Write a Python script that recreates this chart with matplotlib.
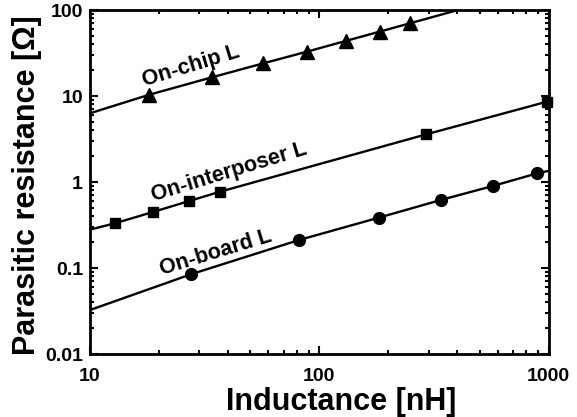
import numpy as np
import matplotlib
matplotlib.use("Agg")
import matplotlib.pyplot as plt
from matplotlib.ticker import LogLocator, NullFormatter, FixedLocator, FixedFormatter

plt.rcParams['font.family'] = ['Liberation Sans', 'DejaVu Sans']
plt.rcParams['font.weight'] = 'bold'

# measured points (nH, Ohm)
chip_L = [18, 34, 57, 88, 130, 183, 248]
chip_R = [10.3, 16.5, 24, 32.7, 43.6, 56, 70]
chip_line_L = [10, 18, 34, 57, 88, 130, 183, 248, 1000]
chip_line_R = [6.3, 10.3, 16.5, 24, 32.7, 43.6, 56, 70, 196]

inter_L = [12.8, 18.9, 27, 36.8, 293, 980]
inter_R = [0.33, 0.45, 0.60, 0.77, 3.59, 8.6]
inter_line_L = [10, 12.8, 18.9, 27, 36.8, 293, 1000]
inter_line_R = [0.28, 0.33, 0.45, 0.60, 0.77, 3.59, 8.7]

board_L = [27.7, 81.7, 181.5, 340, 571, 889]
board_R = [0.085, 0.212, 0.385, 0.62, 0.90, 1.26]
board_line_L = [10, 27.7, 81.7, 181.5, 340, 571, 889, 1000]
board_line_R = [0.0325, 0.085, 0.212, 0.385, 0.62, 0.90, 1.26, 1.35]

x_ticks = [10, 100, 1000]
x_labels = ["10", "100", "1000"]
y_ticks = [0.01, 0.1, 1, 10, 100]
y_labels = ["0.01", "0.1", "1", "10", "100"]

fig = plt.figure(figsize=(5.77, 4.17), dpi=100)
ax = fig.add_axes([0.156, 0.151, 0.795, 0.825])

ax.plot(chip_line_L, chip_line_R, color="black", lw=1.7)
ax.plot(chip_L, chip_R, ls="none", marker="^", ms=10, color="black")
ax.plot(inter_line_L, inter_line_R, color="black", lw=1.7)
ax.plot(inter_L, inter_R, ls="none", marker="s", ms=7, color="black", clip_on=False)
ax.plot(board_line_L, board_line_R, color="black", lw=1.7)
ax.plot(board_L, board_R, ls="none", marker="o", ms=8.5, color="black")

ax.set_xscale("log")
ax.set_yscale("log")
ax.set_xlim(10, 1000)
ax.set_ylim(0.01, 100)

ax.xaxis.set_major_locator(FixedLocator(x_ticks))
ax.xaxis.set_major_formatter(FixedFormatter(x_labels))
ax.yaxis.set_major_locator(FixedLocator(y_ticks))
ax.yaxis.set_major_formatter(FixedFormatter(y_labels))
ax.xaxis.set_minor_locator(LogLocator(base=10, subs=np.arange(2, 10)))
ax.yaxis.set_minor_locator(LogLocator(base=10, subs=np.arange(2, 10)))
ax.xaxis.set_minor_formatter(NullFormatter())
ax.yaxis.set_minor_formatter(NullFormatter())

ax.tick_params(which="both", direction="in", top=True, right=True, width=1.5)
ax.tick_params(which="major", length=6, labelsize=14)
ax.tick_params(axis="y", which="major", pad=5)
ax.tick_params(axis="x", which="major", pad=10)
ax.tick_params(which="minor", length=3)
for s in ax.spines.values():
    s.set_linewidth(2)

for lab in ax.get_xticklabels() + ax.get_yticklabels():
    lab.set_fontweight("bold")

ax.set_xlabel("Inductance [nH]", fontsize=22, fontweight="bold")
ax.set_ylabel("Parasitic resistance [Ω]", fontsize=22, fontweight="bold")
ax.xaxis.set_label_coords(0.548, -0.097)
ax.yaxis.set_label_coords(-0.105, 0.49)

ax.text(27.5, 22.3, "On-chip L", rotation=17, fontsize=15.5, fontweight="bold",
        ha="center", va="center", rotation_mode="anchor")
ax.text(40.4, 1.31, "On-interposer L", rotation=17, fontsize=15.5, fontweight="bold",
        ha="center", va="center", rotation_mode="anchor")
ax.text(35.4, 0.149, "On-board L", rotation=17, fontsize=15.5, fontweight="bold",
        ha="center", va="center", rotation_mode="anchor")

fig.savefig("out.png", dpi=100)
